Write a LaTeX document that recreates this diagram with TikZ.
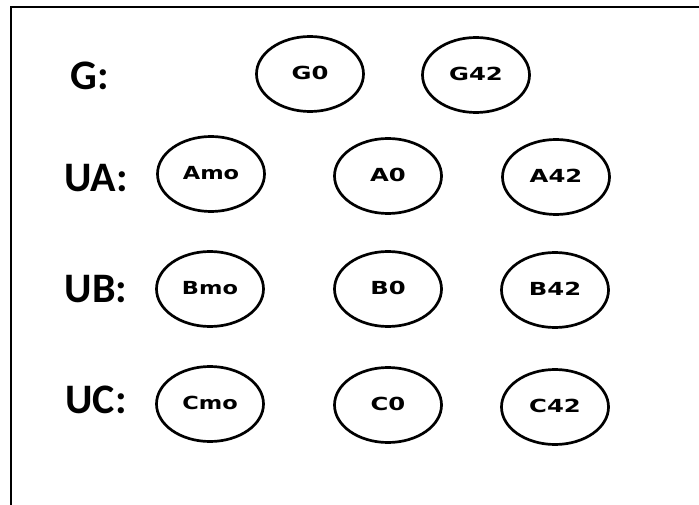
\documentclass[tikz,border=0pt]{standalone}
\usepackage{fontspec}
\usetikzlibrary{shapes.geometric}
\newfontfamily\rowfont{Carlito}
\newfontfamily\statefont{DejaVu Sans}

\begin{document}
\begin{tikzpicture}[x=1pt,y=-1pt,
    state/.style={draw,ellipse,line width=2.7pt,minimum width=107pt,minimum height=75pt,inner sep=0pt,
      font=\statefont\bfseries\fontsize{18}{18}\selectfont},
    row/.style={font=\rowfont\bfseries\fontsize{42}{42}\selectfont,inner sep=0pt}]
      \useasboundingbox (0,0) rectangle (699,505);
      \coordinate (tr) at (699,7);
      \coordinate (tl) at (11,7);
      \coordinate (bl) at (11,505);
      \draw[line width=2.6pt] (tr) -- (tl) -- (bl);
      % row names
      \draw
        (90,76) node[row] (lg){G:}
        (96,178) node[row] (lua){UA:}
        (96,289) node[row] (lub){UB:}
        (96,400) node[row] (luc){UC:};
      % states
      \draw
        (310,74) node[state] (g0){\raisebox{3pt}{\scalebox{1.35}[1]{G0}}}
        (476,75) node[state] (g42){\raisebox{3pt}{\scalebox{1.35}[1]{G42}}}
        (211,174) node[state] (amo){\raisebox{3pt}{\scalebox{1.25}[1]{Amo}}}
        (388,176) node[state] (a0){\raisebox{3pt}{\scalebox{1.35}[1]{A0}}}
        (556,177) node[state] (a42){\raisebox{3pt}{\scalebox{1.35}[1]{A42}}}
        (210,289) node[state] (bmo){\raisebox{3pt}{\scalebox{1.25}[1]{Bmo}}}
        (388,289) node[state] (b0){\raisebox{3pt}{\scalebox{1.35}[1]{B0}}}
        (555,290) node[state] (b42){\raisebox{3pt}{\scalebox{1.35}[1]{B42}}}
        (210,404) node[state] (cmo){\raisebox{3pt}{\scalebox{1.25}[1]{Cmo}}}
        (388,405) node[state] (c0){\raisebox{3pt}{\scalebox{1.35}[1]{C0}}}
        (555,407) node[state] (c42){\raisebox{3pt}{\scalebox{1.35}[1]{C42}}};
    \end{tikzpicture}
\end{document}
